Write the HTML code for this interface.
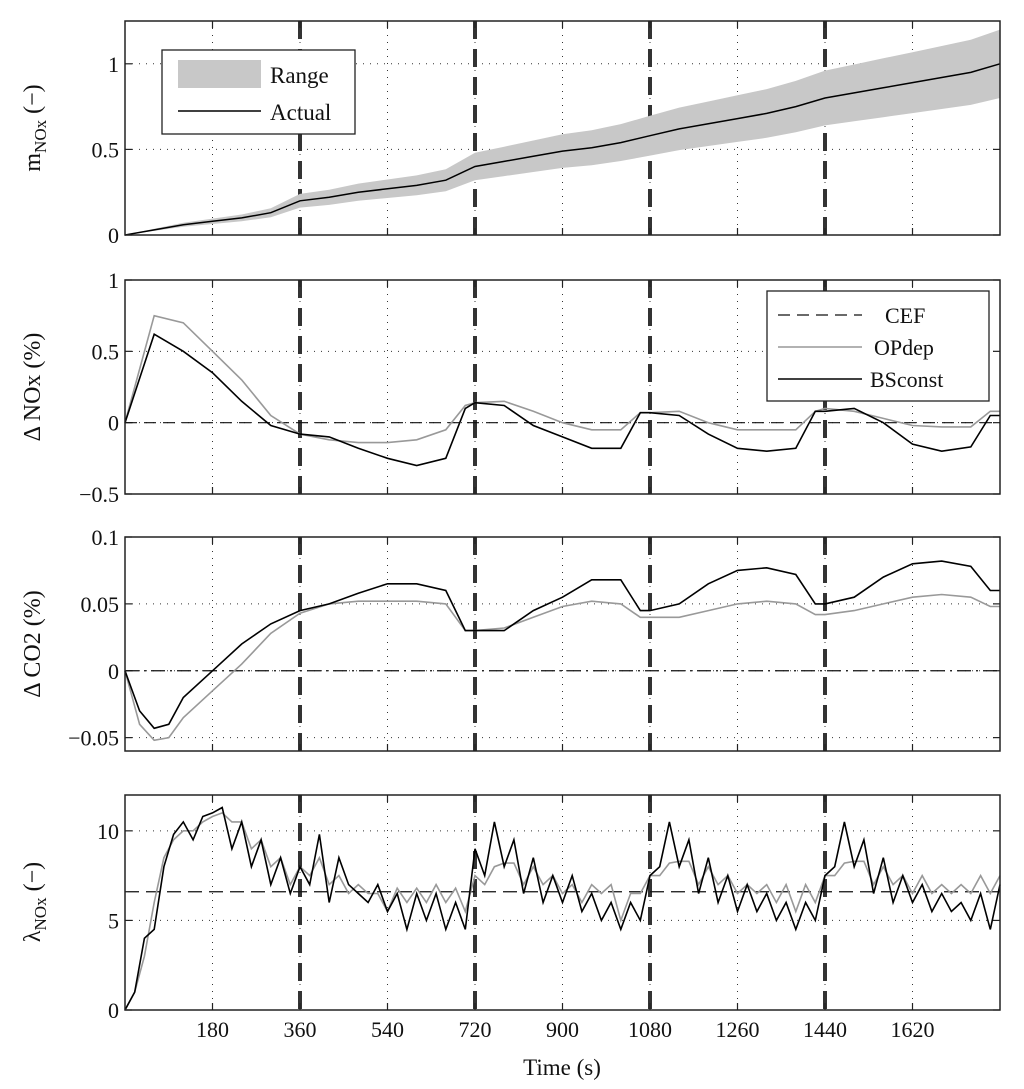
<!DOCTYPE html>
<html><head><meta charset="utf-8"><style>
html,body{margin:0;padding:0;background:#fff}
svg{display:block;font-family:"Liberation Serif",serif}
</style></head><body>
<svg id="chart" width="1024" height="1089" viewBox="0 0 1024 1089" xmlns="http://www.w3.org/2000/svg"></svg>
<script>
const xTicks=[180,360,540,720,900,1080,1260,1440,1620];
const phaseBounds=[360,720,1080,1440];
const tM=[0,60,120,180,240,300,360,420,480,540,600,660,720,780,840,900,960,1020,1080,1140,1200,1260,1320,1380,1440,1500,1560,1620,1680,1740,1800];
const mActual=[0,0.03,0.06,0.08,0.10,0.13,0.2,0.22,0.25,0.27,0.29,0.32,0.4,0.43,0.46,0.49,0.51,0.54,0.58,0.62,0.65,0.68,0.71,0.75,0.8,0.83,0.86,0.89,0.92,0.95,1.0];
const mRangeFrac=0.2;
const tD=[0,60,120,180,240,300,360,420,480,540,600,660,700,720,780,840,900,960,1020,1060,1080,1140,1200,1260,1320,1380,1420,1440,1500,1560,1620,1680,1740,1780,1800];
const noxBS=[0,0.62,0.5,0.35,0.15,-0.02,-0.08,-0.1,-0.18,-0.25,-0.3,-0.25,0.1,0.14,0.12,-0.02,-0.1,-0.18,-0.18,0.07,0.07,0.05,-0.08,-0.18,-0.2,-0.18,0.08,0.08,0.1,0.0,-0.15,-0.2,-0.17,0.05,0.05];
const noxOP=[0,0.75,0.7,0.5,0.3,0.05,-0.08,-0.12,-0.14,-0.14,-0.12,-0.05,0.12,0.14,0.15,0.08,0.0,-0.05,-0.05,0.07,0.07,0.08,0.0,-0.05,-0.05,-0.05,0.08,0.1,0.08,0.03,-0.02,-0.03,-0.03,0.08,0.08];
const tC=[0,30,60,90,120,180,240,300,360,420,480,540,600,660,700,720,780,840,900,960,1020,1060,1080,1140,1200,1260,1320,1380,1420,1440,1500,1560,1620,1680,1740,1780,1800];
const co2BS=[0,-0.03,-0.043,-0.04,-0.02,0.0,0.02,0.035,0.045,0.05,0.058,0.065,0.065,0.06,0.03,0.03,0.03,0.045,0.055,0.068,0.068,0.045,0.045,0.05,0.065,0.075,0.077,0.072,0.05,0.05,0.055,0.07,0.08,0.082,0.078,0.06,0.06];
const co2OP=[0,-0.04,-0.052,-0.05,-0.035,-0.015,0.005,0.028,0.043,0.05,0.052,0.052,0.052,0.05,0.03,0.03,0.032,0.04,0.048,0.052,0.05,0.04,0.04,0.04,0.045,0.05,0.052,0.05,0.042,0.042,0.045,0.05,0.055,0.057,0.055,0.048,0.048];
const lamBS=[0,1,4,4.5,8,9.8,10.5,9.5,10.8,11,11.3,9,10.5,8,9.5,7,8.5,6.5,8,7,9.8,6,8.5,7,6.5,6,7,5.5,6.5,4.5,6.5,5,6.5,4.5,6,4.5,9,7.5,10.5,8,9.5,6.5,8.5,6,7.5,6,7.5,5.5,6.5,5,6,4.5,6,5,7.5,8,10.5,8,9.5,6.5,8.5,6,7.5,5.5,7,5.5,6.5,5,6,4.5,6,5,7.5,8,10.5,8,9.5,6.5,8.5,6,7.5,6,7,5.5,6.5,5.5,6,5,6.5,4.5,7];
const lamOP=[0,1,3,6,8.5,9.5,10,10,10.5,10.8,11,10.5,10.5,9,9.5,8,8.5,7,8,7.5,8.5,7,7.5,6.5,7,6.5,6.5,5.5,6.8,6,6.8,6,7,6,6.8,5.5,7.5,7,8,8.2,8.2,7,8,7,7.5,6.5,7,6,7,6.5,7,5,6.5,6.5,7.5,7.5,8.2,8.3,8.3,7,8,7,7.5,6.5,7,6.5,7,6,7,5.5,7,6,7.5,7.5,8.2,8.3,8.3,7,8,7,7.5,6.5,7.5,6.5,7,6.5,7,6.5,7.5,6.5,7.5];
const lamCEF=6.6;
const lamStep=20;

const NS="http://www.w3.org/2000/svg";
const svg=document.getElementById('chart');
const X0=125,X1=1000;
const sx=t=>X0+(t/1800)*(X1-X0);
function el(tag,attrs,parent){const e=document.createElementNS(NS,tag);for(const k in attrs)e.setAttribute(k,attrs[k]);(parent||svg).appendChild(e);return e;}
function txt(s,x,y,anchor,parent,size){const e=el('text',{x:x,y:y,'text-anchor':anchor||'middle','font-size':size||22,fill:'#111'},parent);e.textContent=s;return e;}

const panels=[
 {name:'mnox',top:21,bot:235,min:0,max:1.25,ticks:[0,0.5,1],labels:['0','0.5','1']},
 {name:'dnox',top:280,bot:494,min:-0.5,max:1,ticks:[-0.5,0,0.5,1],labels:['−0.5','0','0.5','1']},
 {name:'dco2',top:537,bot:751,min:-0.06,max:0.1,ticks:[-0.05,0,0.05,0.1],labels:['−0.05','0','0.05','0.1']},
 {name:'lambda',top:795,bot:1010,min:0,max:12,ticks:[0,5,10],labels:['0','5','10']}
];
panels.forEach(p=>{p.sy=v=>p.bot-(v-p.min)/(p.max-p.min)*(p.bot-p.top);});

function poly(p,ts,vs,attrs,g,name){
 const pts=ts.map((t,i)=>sx(t).toFixed(1)+','+p.sy(vs[i]).toFixed(1)).join(' ');
 const e=el('polyline',Object.assign({points:pts,fill:'none'},attrs),g);
 
 
 return e;
}

panels.forEach(p=>{
 const g=el('g',{});
 
 
 xTicks.forEach(t=>{const l=el('line',{x1:sx(t),x2:sx(t),y1:p.top,y2:p.bot,stroke:'#333','stroke-width':1,'stroke-dasharray':'1,6'},g);
  });
 p.ticks.forEach(v=>{const l=el('line',{x1:X0,x2:X1,y1:p.sy(v),y2:p.sy(v),stroke:'#333','stroke-width':1,'stroke-dasharray':'1,6'},g);
  });
 phaseBounds.forEach(t=>{const l=el('line',{x1:sx(t),x2:sx(t),y1:p.top,y2:p.bot,stroke:'#333','stroke-width':4,'stroke-dasharray':'18,10'},g);
  });
 xTicks.forEach(t=>{el('line',{x1:sx(t),x2:sx(t),y1:p.bot,y2:p.bot-7,stroke:'#222','stroke-width':1.2},g);el('line',{x1:sx(t),x2:sx(t),y1:p.top,y2:p.top+7,stroke:'#222','stroke-width':1.2},g);});
 p.ticks.forEach((v,i)=>{el('line',{x1:X0,x2:X0+7,y1:p.sy(v),y2:p.sy(v),stroke:'#222','stroke-width':1.2},g);el('line',{x1:X1,x2:X1-7,y1:p.sy(v),y2:p.sy(v),stroke:'#222','stroke-width':1.2},g);
  const tl=txt(p.labels[i],X0-6,p.sy(v)+8,'end',g);});
 p.g=g;
});

(function(){const p=panels[0],g=p.g;
 const up=tM.map((t,i)=>sx(t).toFixed(1)+','+p.sy(mActual[i]*(1+mRangeFrac)).toFixed(1));
 const lo=tM.map((t,i)=>sx(t).toFixed(1)+','+p.sy(mActual[i]*(1-mRangeFrac)).toFixed(1)).reverse();
 const r=el('polygon',{points:up.concat(lo).join(' '),fill:'#c8c8c8',stroke:'none'},g);
 
 poly(p,tM,mActual,{stroke:'#000','stroke-width':1.5},g,'actual-line');
 const lg=el('g',{},g);
 el('rect',{x:162,y:50,width:193,height:84,fill:'#fff',stroke:'#222','stroke-width':1.3},lg);
 el('rect',{x:178,y:60,width:83,height:28,fill:'#c8c8c8'},lg);
 txt('Range',270,83,'start',lg,23);
 el('line',{x1:178,x2:261,y1:111,y2:111,stroke:'#000','stroke-width':1.5},lg);
 txt('Actual',270,120,'start',lg,23);
})();
(function(){const p=panels[1],g=p.g;
 const c=el('line',{x1:X0,x2:X1,y1:p.sy(0),y2:p.sy(0),stroke:'#111','stroke-width':1.2,'stroke-dasharray':'12,7'},g);
 
 poly(p,tD,noxOP,{stroke:'#999','stroke-width':1.6},g,'opdep-line');
 poly(p,tD,noxBS,{stroke:'#000','stroke-width':1.6},g,'bsconst-line');
 const lg=el('g',{},g);
 el('rect',{x:767,y:291,width:222,height:110,fill:'#fff',stroke:'#222','stroke-width':1.3},lg);
 el('line',{x1:778,x2:862,y1:315,y2:315,stroke:'#111','stroke-width':1.3,'stroke-dasharray':'12,7'},lg);
 txt('CEF',885,323,'start',lg,22);
 el('line',{x1:778,x2:862,y1:347,y2:347,stroke:'#999','stroke-width':1.6},lg);
 txt('OPdep',874,355,'start',lg,22);
 el('line',{x1:778,x2:862,y1:379,y2:379,stroke:'#000','stroke-width':1.6},lg);
 txt('BSconst',870,387,'start',lg,22);
})();
(function(){const p=panels[2],g=p.g;
 const c=el('line',{x1:X0,x2:X1,y1:p.sy(0),y2:p.sy(0),stroke:'#111','stroke-width':1.2,'stroke-dasharray':'14,5,2,5'},g);
 
 poly(p,tC,co2OP,{stroke:'#999','stroke-width':1.6},g,'opdep-line');
 poly(p,tC,co2BS,{stroke:'#000','stroke-width':1.6},g,'bsconst-line');
})();
(function(){const p=panels[3],g=p.g;
 const c=el('line',{x1:X0,x2:X1,y1:p.sy(lamCEF),y2:p.sy(lamCEF),stroke:'#111','stroke-width':1.2,'stroke-dasharray':'14,7'},g);
 
 const tl=lamBS.map((v,i)=>i*lamStep);
 poly(p,tl,lamOP,{stroke:'#999','stroke-width':1.6},g,'opdep-line');
 poly(p,tl,lamBS,{stroke:'#000','stroke-width':1.6},g,'bsconst-line');
 xTicks.forEach(t=>{const l=txt(String(t),sx(t),p.bot+27,'middle',g);});
})();
panels.forEach(p=>{const r=el('rect',{x:X0,y:p.top,width:X1-X0,height:p.bot-p.top,fill:'none',stroke:'#222','stroke-width':1.5},p.g);
 });

function ylab(html,cy,name){const e=el('text',{transform:`translate(40,${cy}) rotate(-90)`,'text-anchor':'middle','font-size':24,fill:'#111'});e.innerHTML=html;
 }
ylab('m<tspan font-size="17" dy="6">NOx</tspan><tspan dy="-6"> (−)</tspan>',128,'y-axis-title-mnox');
ylab('Δ NOx (%)',387,'y-axis-title-dnox');
ylab('Δ CO2 (%)',644,'y-axis-title-dco2');
ylab('λ<tspan font-size="17" dy="6">NOx</tspan><tspan dy="-6"> (−)</tspan>',902,'y-axis-title-lambda');
const xt=txt('Time (s)',562,1075,'middle',svg,23);

</script>
</body></html>
